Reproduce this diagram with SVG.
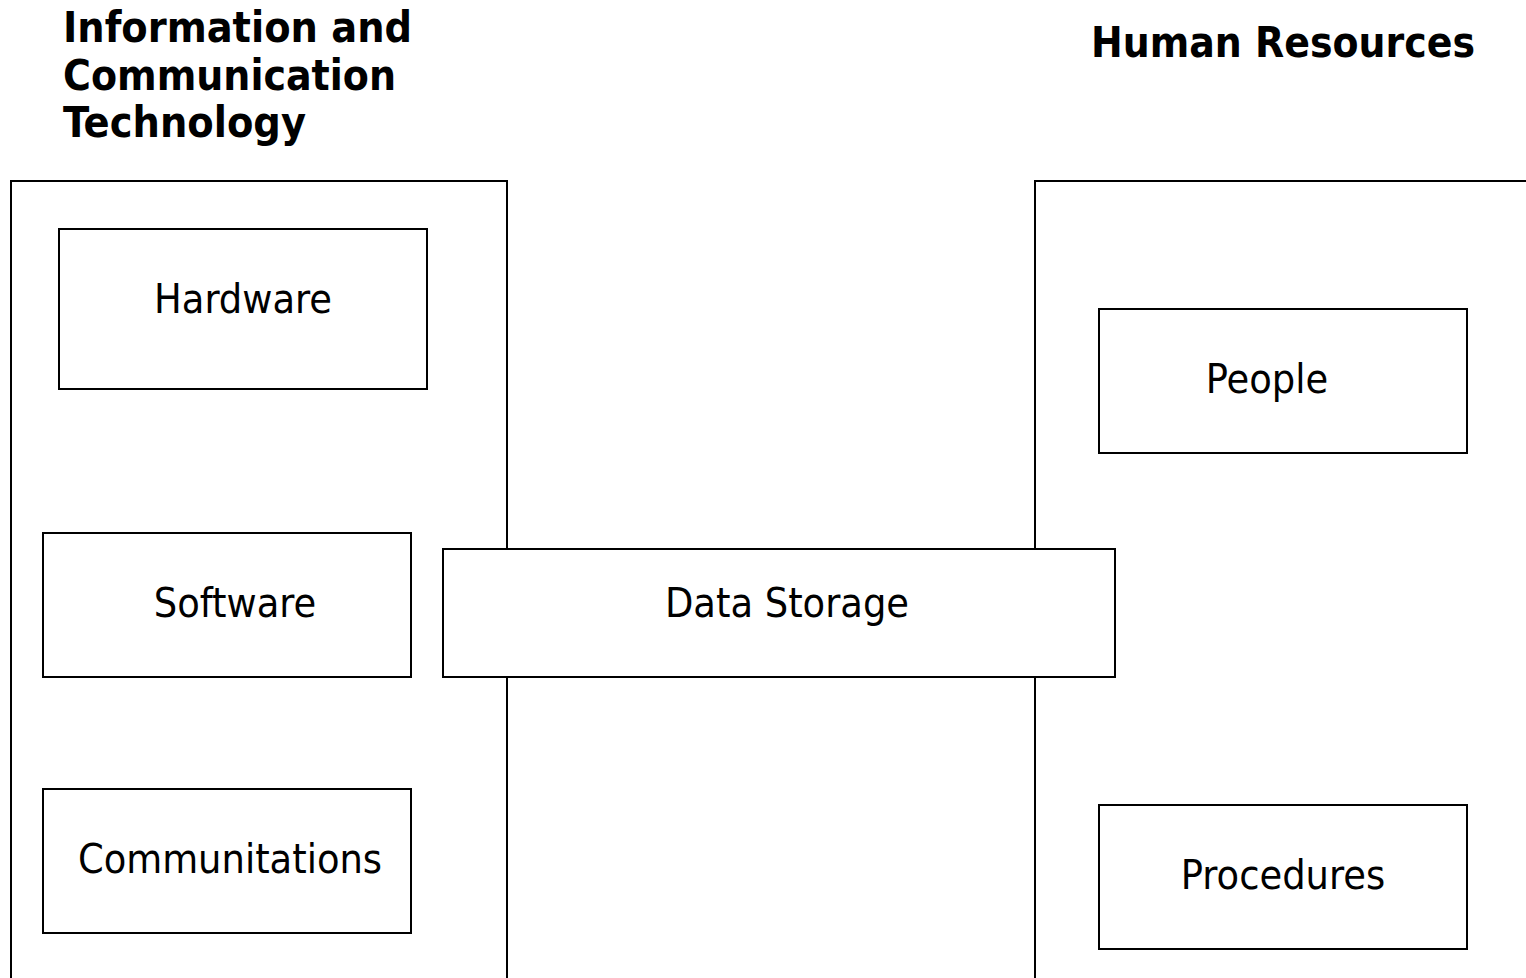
<svg xmlns="http://www.w3.org/2000/svg" width="1526" height="978" viewBox="0 0 1526 978">
  <style>
    .frame { fill: none; stroke: #000; stroke-width: 2; }
    .box { fill: #fff; stroke: #000; stroke-width: 2; }
    .label { font-family: "DejaVu Sans Condensed", "DejaVu Sans", sans-serif; font-stretch: condensed; font-size: 41px; fill: #000; text-anchor: middle; }
    .head { font-family: "DejaVu Sans Condensed", "DejaVu Sans", sans-serif; font-stretch: condensed; font-weight: bold; font-size: 42.8px; fill: #000; }
  </style>
  <rect width="1526" height="978" fill="#fff"/>

  <!-- group headings -->
  <g id="heading-ict">
    <text class="head" x="63" y="42" textLength="349" lengthAdjust="spacingAndGlyphs">Information and</text>
    <text class="head" x="63" y="90" textLength="333" lengthAdjust="spacingAndGlyphs">Communication</text>
    <text class="head" x="63" y="137" textLength="243" lengthAdjust="spacingAndGlyphs">Technology</text>
  </g>
  <g id="heading-hr">
    <text class="head" x="1091" y="57" textLength="384" lengthAdjust="spacingAndGlyphs">Human Resources</text>
  </g>

  <!-- enclosing panels -->
  <g id="panel-ict">
    <rect class="frame" x="11" y="181" width="496" height="820"/>
  </g>
  <g id="panel-hr">
    <rect class="frame" x="1035" y="181" width="520" height="820"/>
  </g>

  <g id="connectors"></g>

  <g id="hardware">
    <rect class="box" x="59" y="229" width="368" height="160"/>
    <text class="label" x="243" y="313">Hardware</text>
  </g>
  <g id="software">
    <rect class="box" x="43" y="533" width="368" height="144"/>
    <text class="label" x="235" y="617">Software</text>
  </g>
  <g id="communitations">
    <rect class="box" x="43" y="789" width="368" height="144"/>
    <text class="label" x="230" y="873">Communitations</text>
  </g>
  <g id="data-storage">
    <rect class="box" x="443" y="549" width="672" height="128"/>
    <text class="label" x="787" y="617">Data Storage</text>
  </g>
  <g id="people">
    <rect class="box" x="1099" y="309" width="368" height="144"/>
    <text class="label" x="1267" y="393">People</text>
  </g>
  <g id="procedures">
    <rect class="box" x="1099" y="805" width="368" height="144"/>
    <text class="label" x="1283" y="889">Procedures</text>
  </g>
</svg>
